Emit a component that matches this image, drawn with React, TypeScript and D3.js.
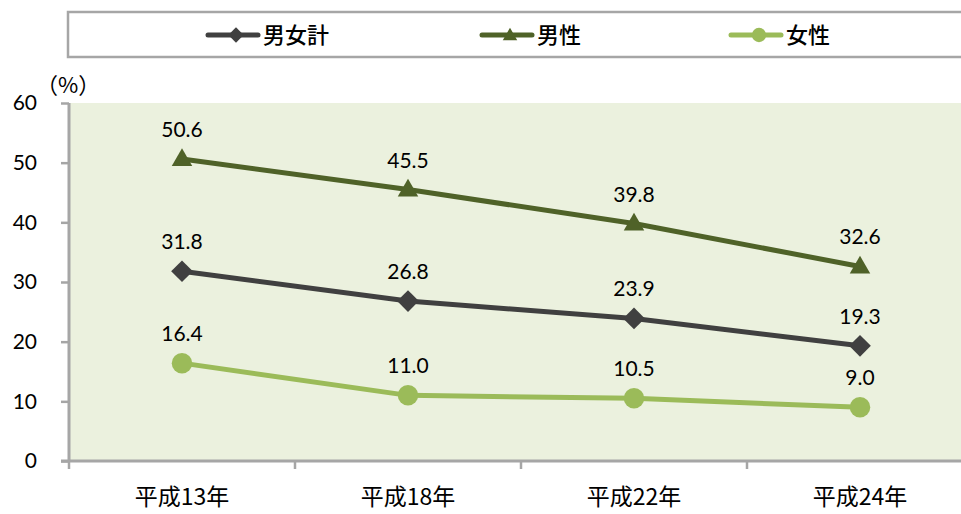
import { useRef, useEffect } from 'react';
import * as d3 from 'd3';

const categories = ['平成13年', '平成18年', '平成22年', '平成24年'];
const totalValues = [31.8, 26.8, 23.9, 19.3];
const maleValues = [50.6, 45.5, 39.8, 32.6];
const femaleValues = [16.4, 11.0, 10.5, 9.0];
const yTicks = [0, 10, 20, 30, 40, 50, 60];

const series = [
    { name: '男女計', values: totalValues, color: '#404040', marker: 'diamond' },
    { name: '男性', values: maleValues, color: '#4f6228', marker: 'triangle' },
    { name: '女性', values: femaleValues, color: '#9bbb59', marker: 'circle' },
];

const numFont = 'Lato, "Noto Sans", sans-serif';
const jpFont = '"Noto Sans CJK JP", sans-serif';

function markerPath(type: string, size: number) {
    if (type === 'diamond') return d3.symbol(d3.symbolDiamond2, size)() ?? '';
    if (type === 'triangle') return d3.symbol(d3.symbolTriangle2, size)() ?? '';
    return d3.symbol(d3.symbolCircle, size)() ?? '';
}

export default function App() {
    const svgRef = useRef<SVGSVGElement>(null);

    useEffect(() => {
        if (!svgRef.current) return;
        const width = 961;
        const height = 514;
        const left = 69, top = 103, bottom = 461, right = 961;

        const svg = d3.select(svgRef.current);
        svg.selectAll('*').remove();
        svg.attr('width', width).attr('height', height);

        const x = d3.scaleBand().domain(categories).range([left, left + 226 * 4]).paddingInner(0);
        const y = d3.scaleLinear().domain([0, 60]).range([bottom, top]);
        const cx = (c: string) => (x(c) ?? 0) + x.bandwidth() / 2;

        // Legend box
        svg.append('rect')
            .attr('x', 68).attr('y', 12)
            .attr('width', 900).attr('height', 45)
            .attr('fill', 'white')
            .attr('stroke', '#a6a6a6')
            .attr('stroke-width', 2.5);

        const legendX = [236, 510, 759];
        series.forEach((s, i) => {
            const g = svg.append('g').attr('transform', `translate(${legendX[i]},35)`);
            g.append('line')
                .attr('x1', -28).attr('x2', 22)
                .attr('stroke', s.color).attr('stroke-width', 5)
                .attr('stroke-linecap', 'round');
            g.append('path')
                .attr('d', markerPath(s.marker, s.marker === 'circle' ? 160 : 150))
                .attr('transform', s.marker === 'triangle' ? 'translate(0,1)' : null)
                .attr('fill', s.color);
            g.append('text')
                .attr('x', 27).attr('y', 8)
                .attr('font-family', jpFont)
                .attr('font-size', '22px')
                .attr('font-weight', 500)
                .attr('fill', '#000')
                .text(s.name);
        });

        // Plot background
        svg.append('rect')
            .attr('x', left).attr('y', top)
            .attr('width', right - left).attr('height', bottom - top)
            .attr('fill', '#ebf1de');

        // Y axis
        const yAxis = svg.append('g').attr('transform', `translate(${left},0)`)
            .call(d3.axisLeft(y).tickValues(yTicks).tickSize(8).tickPadding(24));
        yAxis.selectAll('text')
            .attr('font-family', numFont)
            .attr('font-size', '21px')
            .attr('fill', '#000');
        yAxis.selectAll('line').attr('stroke', '#a6a6a6').attr('stroke-width', 2.5);
        yAxis.select('.domain').remove();
        svg.append('line')
            .attr('x1', left).attr('x2', left)
            .attr('y1', top).attr('y2', bottom)
            .attr('stroke', '#a6a6a6').attr('stroke-width', 3);

        // X axis
        const xAxis = svg.append('g').attr('transform', `translate(0,${bottom})`);
        xAxis.append('line')
            .attr('x1', left - 8).attr('x2', right)
            .attr('stroke', '#a6a6a6').attr('stroke-width', 3);
        categories.forEach(c => {
            xAxis.append('line')
                .attr('x1', x(c) ?? 0).attr('x2', x(c) ?? 0)
                .attr('y1', 0).attr('y2', 8)
                .attr('stroke', '#a6a6a6').attr('stroke-width', 2.5);
            xAxis.append('text')
                .attr('x', cx(c)).attr('y', 44)
                .attr('text-anchor', 'middle')
                .attr('font-family', jpFont)
                .attr('font-size', '23px')
                .attr('fill', '#000')
                .text(c);
        });

        svg.append('text')
            .attr('x', 36).attr('y', 93)
            .attr('font-family', jpFont)
            .attr('font-size', '22px')
            .attr('fill', '#000')
            .text('（%）');

        // Lines
        const line = d3.line<number>()
            .x((_, i) => cx(categories[i]))
            .y(d => y(d));

        series.forEach(s => {
            svg.append('path')
                .datum(s.values)
                .attr('d', line)
                .attr('fill', 'none')
                .attr('stroke', s.color)
                .attr('stroke-width', 5)
                .attr('stroke-linejoin', 'round');

            svg.selectAll(null)
                .data(s.values)
                .enter()
                .append('path')
                .attr('d', markerPath(s.marker, s.marker === 'circle' ? 330 : 300))
                .attr('transform', (d, i) => `translate(${cx(categories[i])},${y(d) + (s.marker === 'triangle' ? 1 : 0)})`)
                .attr('fill', s.color);

            svg.selectAll(null)
                .data(s.values)
                .enter()
                .append('text')
                .attr('x', (_, i) => cx(categories[i]))
                .attr('y', d => y(d) - 22)
                .attr('text-anchor', 'middle')
                .attr('font-family', numFont)
                .attr('font-size', '21px')
                .attr('fill', '#000')
                .text(d => d.toFixed(1));
        });
    }, []);

    return (
        <div style={{ position: 'absolute', left: 0, top: 0 }}>
            <svg ref={svgRef} style={{ display: 'block' }} />
        </div>
    );
}
